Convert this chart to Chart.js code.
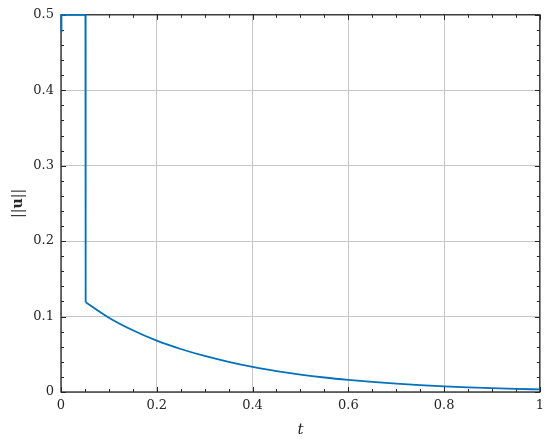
<!DOCTYPE html>
<html>
<head>
<meta charset="utf-8">
<script src="https://cdn.jsdelivr.net/npm/chart.js@4/dist/chart.umd.min.js"></script>
<style>
  html, body { margin: 0; padding: 0; background: #fff; }
  canvas { display: block; }
</style>
</head>
<body>
<canvas id="plot" width="550" height="442"></canvas>
<script>
// start of the run: saturated at 0.5, then the jump down
const tJump = [0, 0.001, 0.051, 0.0515];
const uJump = [0.478, 0.5, 0.5, 0.119];

// decay after the jump
const tDecay = [0.0515, 0.1, 0.15, 0.2, 0.25, 0.3, 0.35, 0.4, 0.45, 0.5, 0.55, 0.6, 0.65, 0.7, 0.75, 0.8, 0.85, 0.9, 0.95, 1.0];
const uDecay = [0.119, 0.0985, 0.0818, 0.068, 0.057, 0.0478, 0.040, 0.0333, 0.0278, 0.0231, 0.0192, 0.016, 0.0133, 0.011, 0.0091, 0.0075, 0.0062, 0.0051, 0.0042, 0.0034];

// axis ticks
const xTicks = [0, 0.2, 0.4, 0.6, 0.8, 1];
const xTickLabels = ['0', '0.2', '0.4', '0.6', '0.8', '1'];
const yTicks = [0, 0.1, 0.2, 0.3, 0.4, 0.5];
const yTickLabels = ['0', '0.1', '0.2', '0.3', '0.4', '0.5'];
const xMinorStep = 0.05;
const yMinorStep = 0.02;

const lineColor = '#0072BD';
const axisColor = '#262626';
const serif = "'DejaVu Serif', 'Liberation Serif', serif";

function toPoints(xs, ys) {
    return xs.map((x, i) => ({ x: x, y: ys[i] }));
}

// box, inward ticks and axis titles
const frame = {
    id: 'frame',
    beforeDatasetsDraw(chart) {
        let ctx = chart.ctx;
        let a = chart.chartArea;
        let xs = chart.scales.x;
        let ys = chart.scales.y;
        ctx.save();
        ctx.strokeStyle = axisColor;
        ctx.lineWidth = 1;
        ctx.beginPath();
        // minor + major ticks on x
        for (let v = 0; v <= 1.0001; v += xMinorStep) {
            let px = Math.round(xs.getPixelForValue(v)) + 0.5;
            let major = xTicks.some(t => Math.abs(t - v) < 1e-6);
            let len = major ? 5 : 3;
            ctx.moveTo(px, a.bottom); ctx.lineTo(px, a.bottom - len);
            ctx.moveTo(px, a.top); ctx.lineTo(px, a.top + len);
        }
        // minor + major ticks on y
        for (let v = 0; v <= 0.5001; v += yMinorStep) {
            let py = Math.round(ys.getPixelForValue(v)) + 0.5;
            let major = yTicks.some(t => Math.abs(t - v) < 1e-6);
            let len = major ? 5 : 3;
            ctx.moveTo(a.left, py); ctx.lineTo(a.left + len, py);
            ctx.moveTo(a.right, py); ctx.lineTo(a.right - len, py);
        }
        ctx.stroke();
        ctx.lineWidth = 1.3;
        ctx.strokeRect(a.left, a.top, a.right - a.left, a.bottom - a.top);
        ctx.restore();
    },
    afterDraw(chart) {
        let ctx = chart.ctx;
        let a = chart.chartArea;
        ctx.save();
        ctx.fillStyle = axisColor;
        ctx.textBaseline = 'middle';
        ctx.textAlign = 'center';
        ctx.font = 'italic 15px ' + serif;
        ctx.fillText('t', (a.left + a.right) / 2, 430);

        // y title: ||u|| with bold u, rotated
        ctx.translate(18, (a.top + a.bottom) / 2);
        ctx.rotate(-Math.PI / 2);
        ctx.textAlign = 'left';
        let parts = [['||', '14px ' + serif], ['u', 'bold 14px ' + serif], ['||', '14px ' + serif]];
        let total = 0;
        parts.forEach(p => { ctx.font = p[1]; total += ctx.measureText(p[0]).width; });
        let x = -total / 2;
        parts.forEach(p => {
            ctx.font = p[1];
            ctx.fillText(p[0], x, 0);
            x += ctx.measureText(p[0]).width;
        });
        ctx.restore();
    }
};

let ctx = document.querySelector('#plot').getContext('2d');
let chart = new Chart(ctx, {
    type: 'line',
    data: {
        datasets: [{
            data: toPoints(tJump, uJump),
            borderColor: lineColor,
            borderWidth: 1.8,
            pointRadius: 0,
            tension: 0,
            clip: 4
        }, {
            data: toPoints(tDecay, uDecay),
            borderColor: lineColor,
            borderWidth: 1.8,
            pointRadius: 0,
            cubicInterpolationMode: 'monotone',
            clip: 4
        }]
    },
    options: {
        responsive: false,
        animation: false,
        layout: { padding: { top: 14, right: 10, left: 0, bottom: 0 } },
        plugins: {
            legend: { display: false },
            tooltip: { enabled: false }
        },
        scales: {
            x: {
                type: 'linear',
                min: 0,
                max: 1,
                afterBuildTicks: s => { s.ticks = xTicks.map(v => ({ value: v })); },
                afterFit: s => { s.height = 50; },
                ticks: {
                    callback: (v) => xTickLabels[xTicks.indexOf(v)] ?? '',
                    font: { family: serif, size: 13 },
                    color: axisColor,
                    padding: 6,
                    maxRotation: 0
                },
                grid: { color: '#c6c6c6', lineWidth: 1, drawTicks: false },
                border: { display: false }
            },
            y: {
                type: 'linear',
                min: 0,
                max: 0.5,
                afterBuildTicks: s => { s.ticks = yTicks.map(v => ({ value: v })); },
                afterFit: s => { s.width = 61; },
                ticks: {
                    callback: (v) => yTickLabels[yTicks.indexOf(v)] ?? '',
                    font: { family: serif, size: 13 },
                    color: axisColor,
                    padding: 7
                },
                grid: { color: '#c6c6c6', lineWidth: 1, drawTicks: false },
                border: { display: false }
            }
        }
    },
    plugins: [frame]
});
</script>
</body>
</html>
